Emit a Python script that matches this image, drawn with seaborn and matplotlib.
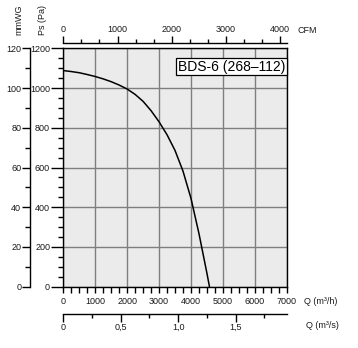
import matplotlib
matplotlib.use("Agg")
import matplotlib.pyplot as plt
from matplotlib.ticker import MultipleLocator, FixedLocator
import seaborn as sns
import numpy as np

# ---- data ----
flow_m3h = [0, 250, 500, 750, 1000, 1250, 1500, 1750, 2000, 2250, 2500, 2750,
            3000, 3250, 3500, 3750, 4000, 4250, 4500, 4580]
ps_pa = [1088, 1083, 1077, 1068, 1058, 1046, 1032, 1015, 995, 968, 933, 886,
         830, 765, 686, 582, 445, 268, 68, 0]
x_ticks = [0, 1000, 2000, 3000, 4000, 5000, 6000, 7000]
y_ticks = [0, 200, 400, 600, 800, 1000, 1200]
mmwg_ticks = [0, 20, 40, 60, 80, 100, 120]
cfm_ticks = [0, 1000, 2000, 3000, 4000]
m3s_ticks = [0, 0.5, 1.0, 1.5]
m3s_labels = ["0", "0,5", "1,0", "1,5"]
model_label = "BDS-6 (268–112)"

sns.set_style("ticks", {"axes.facecolor": "#ebebeb", "axes.edgecolor": "black"})
plt.rcParams['font.family'] = ['Liberation Sans', 'DejaVu Sans']
plt.rcParams['axes.linewidth'] = 1.0

W, H = 358, 348
fig = plt.figure(figsize=(W / 100, H / 100), dpi=100)
L, R, T, B = 63.3, 286.7, 48.3, 286.7
ax = fig.add_axes([L / W, 1 - B / H, (R - L) / W, (B - T) / H])
ax.set_facecolor("#ebebeb")

sns.lineplot(x=flow_m3h, y=ps_pa, ax=ax, color="black", lw=1.1, sort=False,
             estimator=None, zorder=3)
ax.set_xlim(0, 7000)
ax.set_ylim(0, 1200)
for s in ax.spines.values():
    s.set_visible(True)
    s.set_color("black")
    s.set_linewidth(1.0)

ax.set_xticks(x_ticks)
ax.set_xticklabels([str(v) for v in x_ticks])
ax.xaxis.set_minor_locator(MultipleLocator(250))
ax.set_yticks(y_ticks)
ax.set_yticklabels([str(v) for v in y_ticks])
ax.yaxis.set_minor_locator(MultipleLocator(50))
ax.grid(True, which="major", color="#7f7f7f", lw=1.0, zorder=1)
ax.set_axisbelow(True)
tc = "#1a1a1a"
ax.tick_params(axis="x", which="major", direction="out", length=4.5, width=1.0,
               labelsize=6.5, pad=3.0, colors="black", labelcolor=tc)
ax.tick_params(axis="x", which="minor", direction="out", length=4.5, width=1.0, colors="black")
ax.tick_params(axis="y", which="major", direction="out", length=9, width=1.0,
               labelsize=6.5, pad=0.5, colors="black", labelcolor=tc)
ax.tick_params(axis="y", which="minor", direction="out", length=3.6, width=1.0, colors="black")
ax.set_xlabel("")
ax.set_ylabel("")

# CFM axis on top
cfm = ax.secondary_xaxis(1 + 5.0 / (B - T), functions=(lambda q: q / 1.699, lambda c: c * 1.699))
cfm.set_alignment("top")
cfm.set_xticks(cfm_ticks)
cfm.set_xticklabels([str(v) for v in cfm_ticks])
cfm.xaxis.set_minor_locator(MultipleLocator(1000 / 3))
cfm.tick_params(axis="x", which="major", direction="out", length=5, width=1.0,
                labelsize=6.5, pad=1.5, colors="black", labelcolor=tc)
cfm.tick_params(axis="x", which="minor", direction="out", length=3, width=1.0, colors="black")
cfm.spines["top"].set_linewidth(1.0)

# m3/s axis below
m3s = ax.secondary_xaxis(-(314 - B) / (B - T), functions=(lambda q: q / 3600, lambda s: s * 3600))
m3s.set_alignment("bottom")
m3s.set_xticks(m3s_ticks)
m3s.set_xticklabels(m3s_labels)
m3s.xaxis.set_minor_locator(FixedLocator([0.25, 0.75, 1.25, 1.75]))
m3s.tick_params(axis="x", which="major", direction="out", length=5.5, width=1.0,
                labelsize=6.5, pad=1.0, colors="black", labelcolor=tc)
m3s.tick_params(axis="x", which="minor", direction="out", length=3, width=1.0, colors="black")
m3s.spines["bottom"].set_linewidth(1.0)

# mmWG axis on the left
mm = ax.secondary_yaxis(-(L - 30) / (R - L), functions=(lambda p: p / 10, lambda m: m * 10))
mm.set_alignment("left")
mm.set_yticks(mmwg_ticks)
mm.set_yticklabels([str(v) for v in mmwg_ticks])
mm.yaxis.set_minor_locator(MultipleLocator(10))
mm.tick_params(axis="y", which="major", direction="out", length=5.8, width=1.0,
               labelsize=6.5, pad=0.5, colors="black", labelcolor=tc)
mm.tick_params(axis="y", which="minor", direction="out", length=3.6, width=1.0, colors="black")
mm.spines["left"].set_linewidth(1.0)

# model label box
ax.text((231.5 - L) / (R - L), (B - 66.5) / (B - T), model_label, ha="center", va="center",
        fontsize=10, color="black", transform=ax.transAxes, zorder=5,
        bbox=dict(boxstyle="square,pad=0.12", fc="white", ec="black", lw=0.9))

# axis titles
def ftext(x, y, s, **kw):
    fig.text(x / W, 1 - y / H, s, **kw)

ftext(307, 30.5, "CFM", fontsize=6.5, ha="center", va="center", color=tc)
ftext(321, 301, "Q (m³/h)", fontsize=6.5, ha="center", va="center", color=tc)
ftext(322, 326, "Q (m³/s)", fontsize=6.5, ha="center", va="center", color=tc)
ftext(18.5, 20, "mmWG", fontsize=6.5, ha="center", va="center", rotation=90, color=tc)
ftext(42.5, 20, "Ps (Pa)", fontsize=6.5, ha="center", va="center", rotation=90, color=tc)

fig.savefig("out.png", dpi=100, facecolor="white")
